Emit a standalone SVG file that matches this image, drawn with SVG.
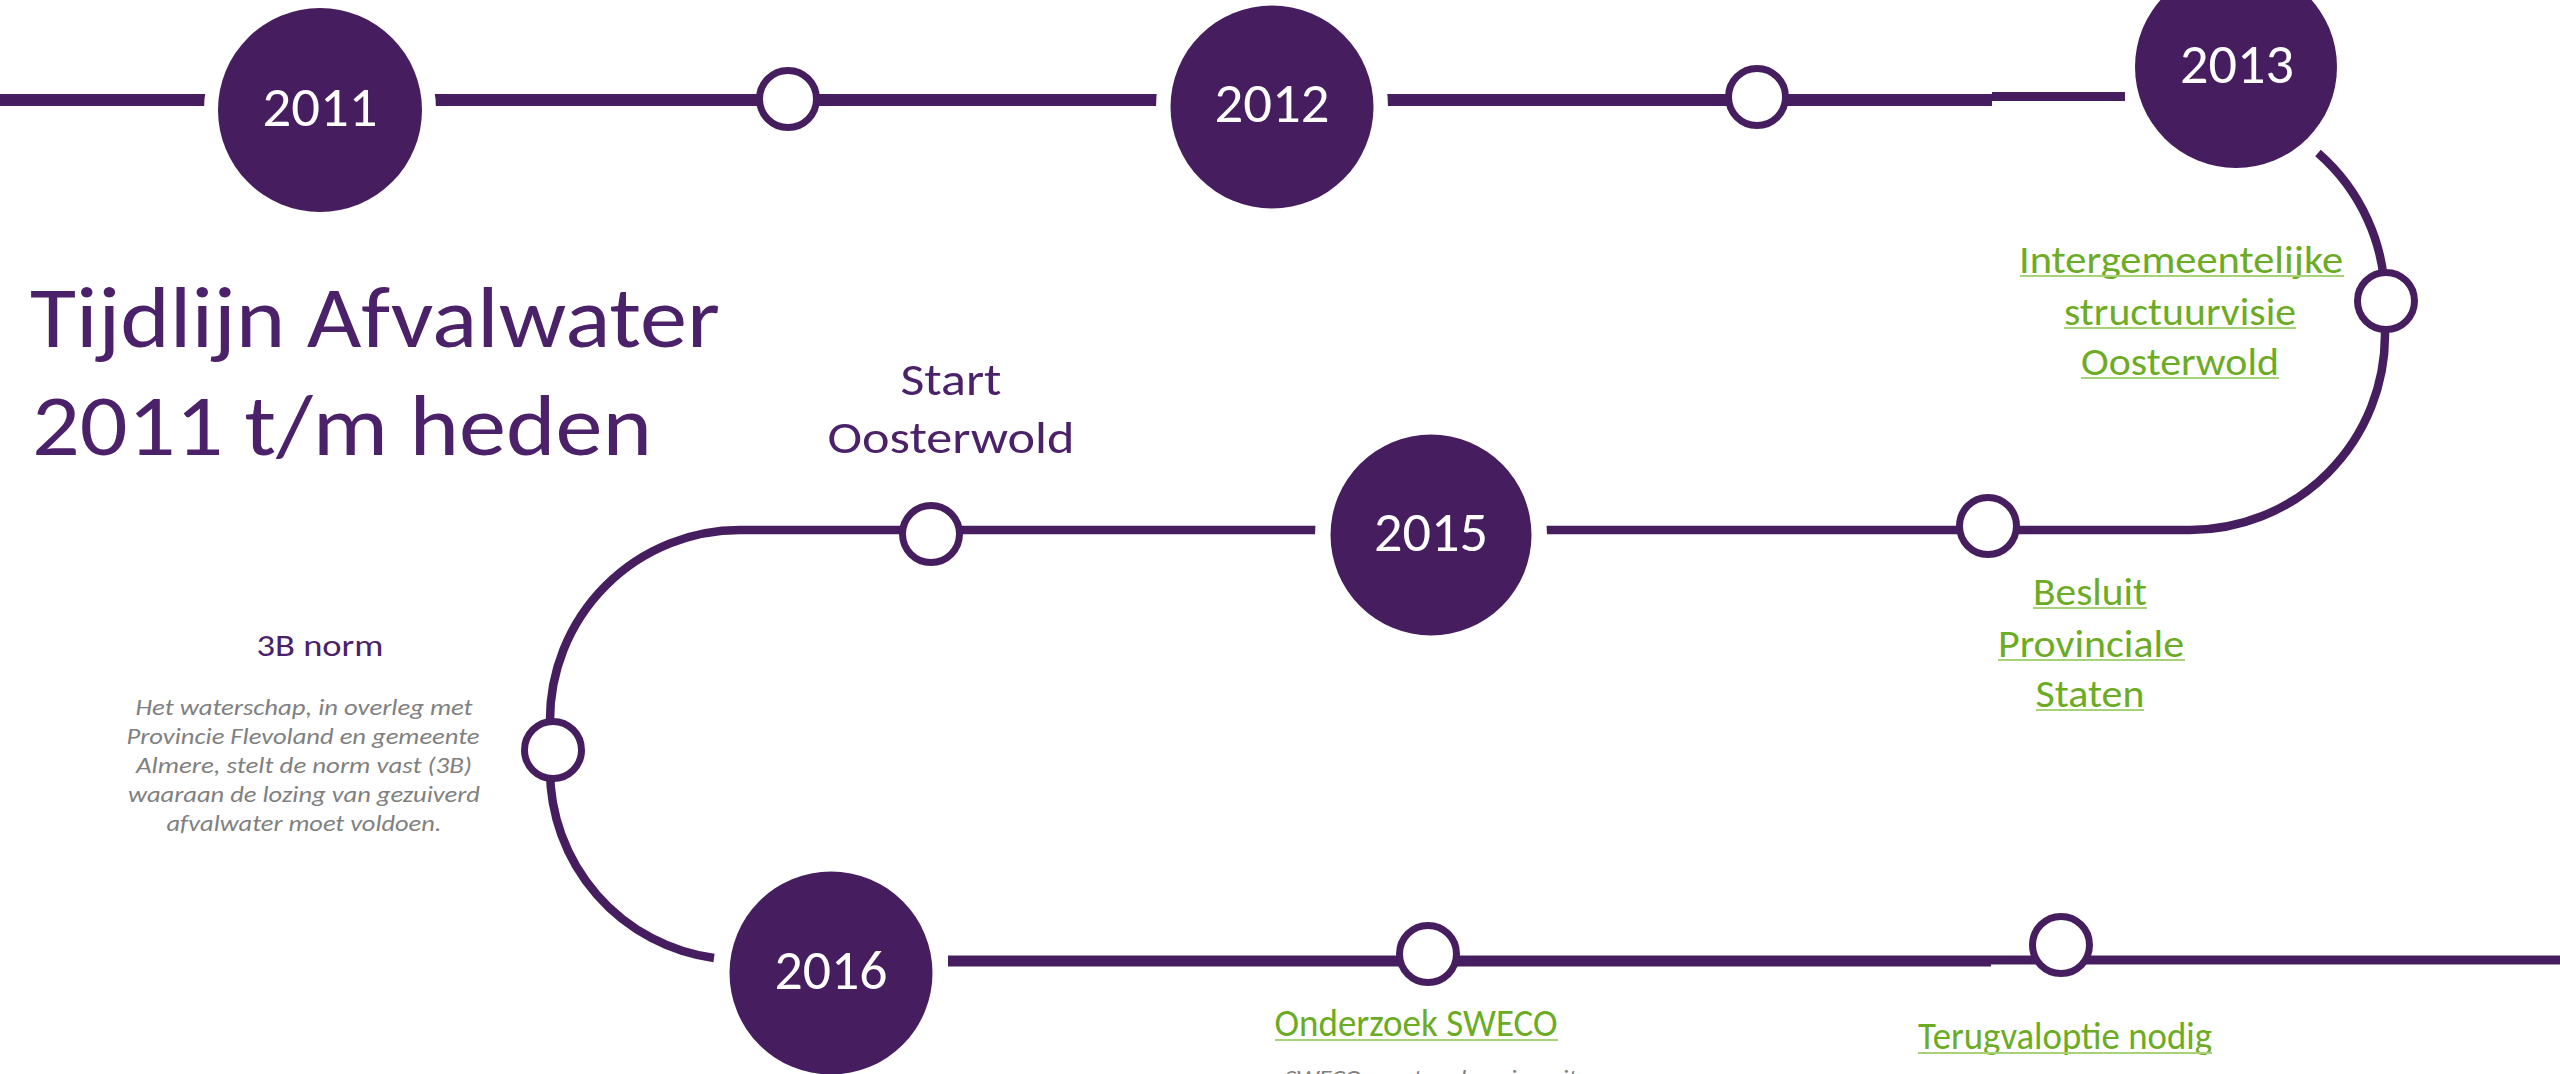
<svg xmlns="http://www.w3.org/2000/svg" width="2560" height="1074" viewBox="0 0 2560 1074">
<defs>
<style>
.bg{fill:#ffffff}
.ln{fill:none;stroke:#461e5f;stroke-linecap:butt}
.halo{fill:#ffffff}
.yr{fill:#461e5f}
.hol{fill:#ffffff;stroke:#461e5f;stroke-width:7}
.ul{stroke:#a8d27a;stroke-width:2}
.f{font-family:Carlito,"Open Sans Light","Lato Light","Open Sans",Lato,sans-serif;font-weight:300}
.yt{font-size:56px;fill:#ffffff;text-anchor:middle}
.ttl{font-size:86px;fill:#4b2169}
.pl{font-size:46px;fill:#4b2169;text-anchor:middle}
.pls{font-size:31px;fill:#4b2169;text-anchor:middle}
.gr{font-size:38px;fill:#6cac24;text-anchor:middle}
.it{font-family:Carlito,"Open Sans",Lato,sans-serif;font-style:italic;font-weight:300;font-size:23px;fill:#808080;text-anchor:middle}
</style>
</defs>
<rect class="bg" x="0" y="0" width="2560" height="1074"/>

<g id="connectors">
<path class="ln" stroke-width="12" d="M0,100 H1992"/>
<path class="ln" stroke-width="9" d="M1992,96.5 H2125"/>
<path class="ln" stroke-width="8.5" d="M2318,153 A195,195 0 0 1 2385,300 L2385,335 A195,195 0 0 1 2190,530 H740 A190,190 0 0 0 550,720 V770 A190,190 0 0 0 714,958"/>
<path class="ln" stroke-width="11" d="M948,961 H1991"/>
<path class="ln" stroke-width="9" d="M1991,960 H2560"/>
</g>

<g id="title" class="f">
<text class="ttl" x="30" y="347" textLength="690" lengthAdjust="spacingAndGlyphs">Tijdlijn Afvalwater</text>
<text class="ttl" x="32" y="455" textLength="620" lengthAdjust="spacingAndGlyphs">2011 t/m heden</text>
</g>

<g id="node-2011" class="f">
<circle class="halo" cx="320" cy="110" r="116"/>
<circle class="yr" cx="320" cy="110" r="102"/>
<text class="yt" x="320" y="126" textLength="115" lengthAdjust="spacingAndGlyphs">2011</text>
</g>

<g id="node-top-1">
<circle class="hol" cx="788" cy="99" r="28.5"/>
</g>

<g id="node-2012" class="f">
<circle class="halo" cx="1272" cy="107" r="116"/>
<circle class="yr" cx="1272" cy="107" r="101.5"/>
<text class="yt" x="1272" y="122" textLength="115" lengthAdjust="spacingAndGlyphs">2012</text>
</g>

<g id="node-top-2">
<circle class="hol" cx="1757" cy="97" r="28.5"/>
</g>

<g id="node-2013" class="f">
<circle class="halo" cx="2236" cy="67" r="114"/>
<circle class="yr" cx="2236" cy="67" r="101"/>
<text class="yt" x="2237" y="83" textLength="114" lengthAdjust="spacingAndGlyphs">2013</text>
</g>

<g id="node-structuurvisie" class="f">
<circle class="hol" cx="2386" cy="301" r="28.5"/>
<text class="gr" x="2181" y="273" textLength="324" lengthAdjust="spacingAndGlyphs">Intergemeentelijke</text>
<text class="gr" x="2180" y="325" textLength="232" lengthAdjust="spacingAndGlyphs">structuurvisie</text>
<text class="gr" x="2180" y="375" textLength="198" lengthAdjust="spacingAndGlyphs">Oosterwold</text>
<line class="ul" x1="2020" y1="276" x2="2344" y2="276"/>
<line class="ul" x1="2064" y1="328" x2="2296" y2="328"/>
<line class="ul" x1="2081" y1="378" x2="2279" y2="378"/>
</g>

<g id="node-besluit" class="f">
<circle class="hol" cx="1988" cy="526" r="28.5"/>
<text class="gr" x="2090" y="605" textLength="114" lengthAdjust="spacingAndGlyphs">Besluit</text>
<text class="gr" x="2091" y="657" textLength="186" lengthAdjust="spacingAndGlyphs">Provinciale</text>
<text class="gr" x="2090" y="707" textLength="109" lengthAdjust="spacingAndGlyphs">Staten</text>
<line class="ul" x1="2033" y1="608" x2="2147" y2="608"/>
<line class="ul" x1="1998" y1="660" x2="2185" y2="660"/>
<line class="ul" x1="2036" y1="710" x2="2144" y2="710"/>
</g>

<g id="node-2015" class="f">
<circle class="halo" cx="1431" cy="535" r="116"/>
<circle class="yr" cx="1431" cy="535" r="100.5"/>
<text class="yt" x="1431" y="551" textLength="114" lengthAdjust="spacingAndGlyphs">2015</text>
</g>

<g id="node-start" class="f">
<circle class="hol" cx="931" cy="534" r="28.5"/>
<text class="pl" x="951" y="395" textLength="101" lengthAdjust="spacingAndGlyphs">Start</text>
<text class="pl" x="951" y="453" textLength="247" lengthAdjust="spacingAndGlyphs">Oosterwold</text>
</g>

<g id="node-3bnorm" class="f">
<circle class="hol" cx="553" cy="750" r="28.5"/>
<text class="pls" x="320" y="656" textLength="127" lengthAdjust="spacingAndGlyphs">3B norm</text>
<text class="it" x="304" y="715" textLength="337" lengthAdjust="spacingAndGlyphs">Het waterschap, in overleg met</text>
<text class="it" x="303" y="744" textLength="353" lengthAdjust="spacingAndGlyphs">Provincie Flevoland en gemeente</text>
<text class="it" x="304" y="773" textLength="336" lengthAdjust="spacingAndGlyphs">Almere, stelt de norm vast (3B)</text>
<text class="it" x="304" y="802" textLength="352" lengthAdjust="spacingAndGlyphs">waaraan de lozing van gezuiverd</text>
<text class="it" x="304" y="831" textLength="275" lengthAdjust="spacingAndGlyphs">afvalwater moet voldoen.</text>
</g>

<g id="node-2016" class="f">
<circle class="halo" cx="831" cy="973" r="116"/>
<circle class="yr" cx="831" cy="973" r="101.5"/>
<text class="yt" x="831" y="989" textLength="113" lengthAdjust="spacingAndGlyphs">2016</text>
</g>

<g id="node-sweco" class="f">
<circle class="hol" cx="1428" cy="954" r="28.5"/>
<text class="gr" x="1416" y="1036" textLength="283" lengthAdjust="spacingAndGlyphs">Onderzoek SWECO</text>
<line class="ul" x1="1275" y1="1040" x2="1558" y2="1040"/>
<text class="it" x="1458" y="1086" textLength="347" lengthAdjust="spacingAndGlyphs">SWECO voert verkenning uit naar</text>
</g>

<g id="node-terugval" class="f">
<circle class="hol" cx="2061" cy="945" r="28.5"/>
<text class="gr" x="2065" y="1049" textLength="294" lengthAdjust="spacingAndGlyphs">Terugvaloptie nodig</text>
<line class="ul" x1="1918" y1="1053" x2="2212" y2="1053"/>
</g>
</svg>
